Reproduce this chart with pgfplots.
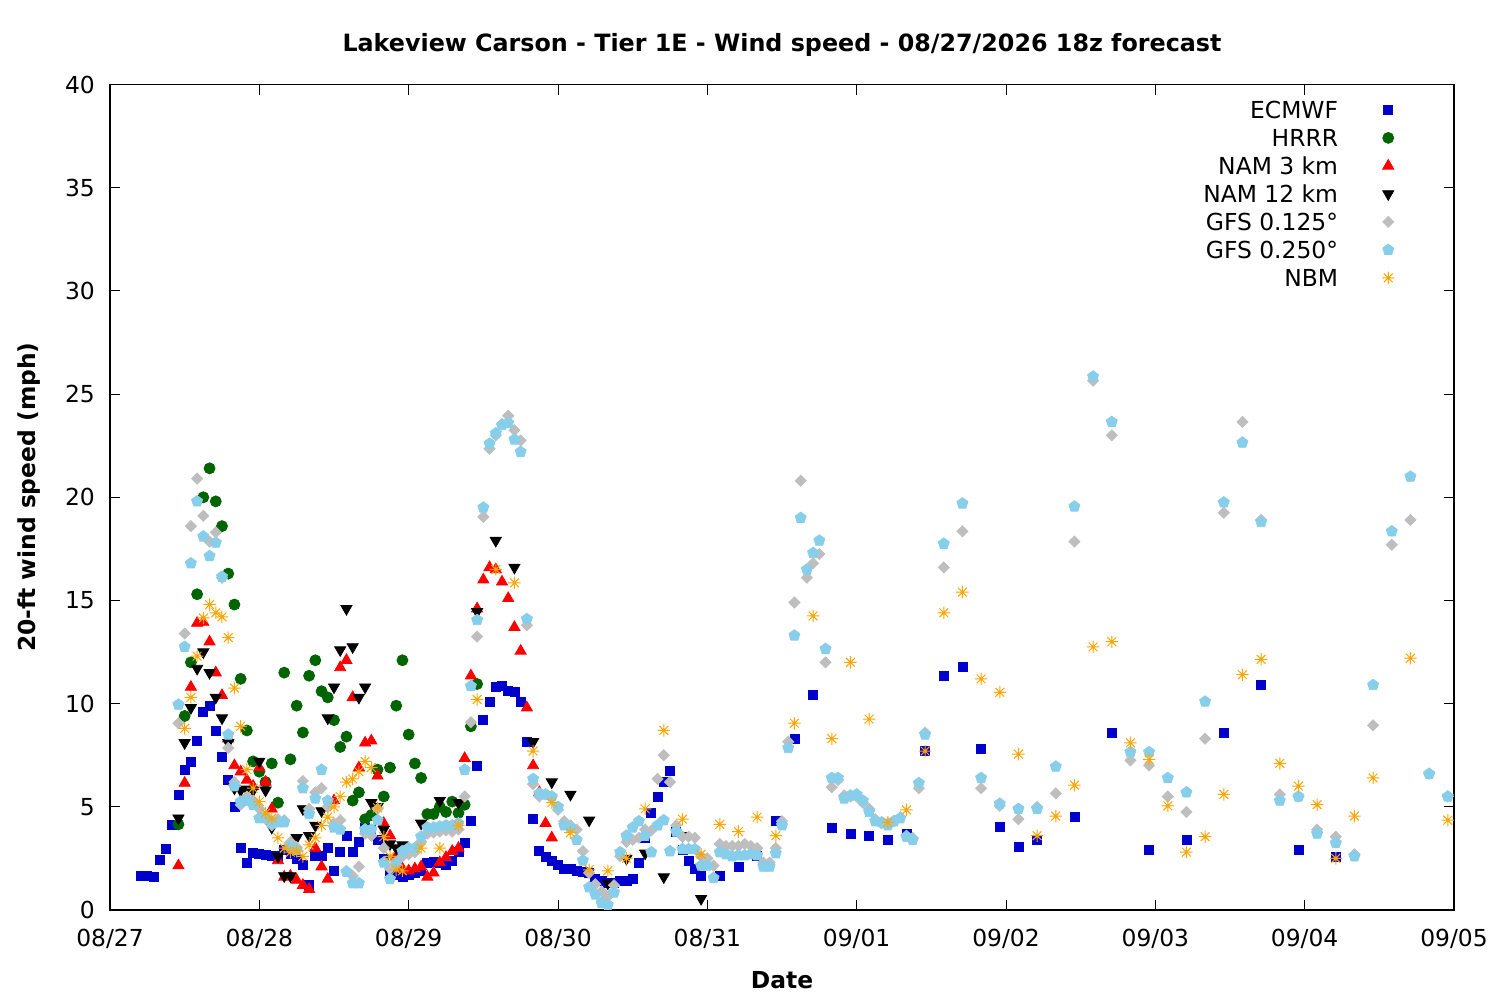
\documentclass[border=0pt]{standalone}
\usepackage{fontspec}
\setmainfont{DejaVu Sans}
\usepackage{pgfplots}
\pgfplotsset{compat=1.18}
\definecolor{ecblue}{HTML}{0000CD}
\definecolor{hrgreen}{HTML}{006400}
\definecolor{gfsgray}{HTML}{BEBEBE}
\definecolor{gfsblue}{HTML}{87CEEB}
\definecolor{nbmorange}{HTML}{FFA500}
\pgfdeclareplotmark{gpstar}{%
  \pgfpathmoveto{\pgfpoint{-\pgfplotmarksize}{0pt}}\pgfpathlineto{\pgfpoint{\pgfplotmarksize}{0pt}}%
  \pgfpathmoveto{\pgfpoint{0pt}{-\pgfplotmarksize}}\pgfpathlineto{\pgfpoint{0pt}{\pgfplotmarksize}}%
  \pgfpathmoveto{\pgfpoint{-0.707\pgfplotmarksize}{-0.707\pgfplotmarksize}}\pgfpathlineto{\pgfpoint{0.707\pgfplotmarksize}{0.707\pgfplotmarksize}}%
  \pgfpathmoveto{\pgfpoint{-0.707\pgfplotmarksize}{0.707\pgfplotmarksize}}\pgfpathlineto{\pgfpoint{0.707\pgfplotmarksize}{-0.707\pgfplotmarksize}}%
  \pgfusepathqstroke}
\begin{document}
\fontsize{11.7pt}{14pt}\selectfont
\begin{tikzpicture}
\useasboundingbox (-55pt,-45pt) rectangle (695pt,455pt);
\begin{axis}[
  at={(0,0)}, anchor=south west, scale only axis,
  width=672pt, height=412.75pt,
  xmin=0, xmax=216, ymin=0, ymax=40,
  xtick={0,24,...,216},
  xticklabels={08/27,08/28,08/29,08/30,08/31,09/01,09/02,09/03,09/04,09/05},
  ytick={0,5,...,40},
  tick pos=both, tick align=inside, major tick length=5pt,
  axis line style={line width=0.6pt}, every tick/.style={black, line width=0.5pt},
  /pgf/number format/assume math mode=true,
  tick label style={font=\fontsize{11.7pt}{14pt}\selectfont},
  xticklabel style={anchor=base, inner sep=0pt, yshift=-18.25pt},
  yticklabel style={anchor=east, inner sep=0pt, xshift=-7.4pt},
  title={\bfseries Lakeview Carson - Tier 1E - Wind speed - 08/27/2026 18z forecast},
  title style={at={(rel axis cs:0.5,1)}, anchor=base, yshift=10.45pt, inner sep=0pt, font=\fontsize{11.9pt}{14pt}\selectfont},
  xlabel={\bfseries Date},
  xlabel style={at={(axis description cs:0.5,-0.0951)}, anchor=base, inner sep=0pt, font=\fontsize{11.7pt}{14pt}\selectfont},
  ylabel={\bfseries 20-ft wind speed (mph)},
  ylabel style={at={(axis description cs:-0.0554,0.5)}, anchor=base, inner sep=0pt, font=\fontsize{11.7pt}{14pt}\selectfont},
  legend plot pos=right,
  legend cell align=right,
  legend image post style={yshift=2.5pt},
  legend style={at={(rel axis cs:0.956,1)}, anchor=north east, yshift=-8pt, draw=none, fill=none, inner sep=0pt, row sep=0pt, column sep=22pt,
    font=\fontsize{11.7pt}{14pt}\selectfont, nodes={inner sep=0pt, text height=9pt, text depth=5pt}},
  clip=false,
]
\addplot[only marks, mark=square*, mark size=2.25pt, color=ecblue] coordinates {
(5,1.65)(6,1.65)(7,1.6)(8,2.45)(9,2.95)(10,4.1)(11,5.6)(12,6.8)(13,7.2)(14,8.2)(15,9.6)(16,9.9)(17,8.7)(18,7.4)(19,6.3)(20,5.0)(21,3.0)(22,2.3)(23,2.75)(24,2.7)(25,2.65)(26,2.6)(27,2.6)(28,2.9)(29,2.7)(30,2.5)(31,2.2)(32,1.2)(33,2.6)(34,2.6)(35,3.0)(36,1.9)(37,2.8)(38,3.6)(39,2.8)(40,3.3)(41,4.0)(42,3.9)(43,3.4)(44,2.5)(45,1.8)(46,1.7)(47,1.6)(48,1.7)(49,1.8)(50,1.9)(51,2.3)(52,2.35)(53,2.3)(54,2.2)(55,2.4)(56,2.8)(57,3.25)(58,4.3)(59,7.0)(60,9.2)(61,10.1)(62,10.8)(63,10.85)(64,10.6)(65,10.55)(66,10.1)(67,8.15)(68,4.4)(69,2.85)(70,2.55)(71,2.4)(72,2.2)(73,2.0)(74,2.0)(75,1.9)(76,1.85)(77,1.8)(78,1.5)(79,1.4)(80,1.3)(81,1.3)(82,1.4)(83,1.4)(84,1.5)(85,2.3)(86,3.5)(87,4.7)(88,5.5)(89,6.2)(90,6.75)(91,3.8)(92,2.9)(93,2.4)(94,2.0)(95,1.65)(98,1.65)(101,2.1)(104,2.6)(107,4.3)(110,8.3)(113,10.4)(116,4.0)(119,3.7)(122,3.6)(125,3.4)(128,3.7)(131,7.7)(134,11.35)(137,11.8)(140,7.8)(143,4.05)(146,3.05)(149,3.4)(155,4.5)(161,8.6)(167,2.9)(173,3.4)(179,8.6)(185,10.9)(191,2.9)(197,2.55)
};
\addlegendentry{ECMWF}
\addplot[only marks, mark=*, mark size=2.75pt, color=hrgreen] coordinates {
(11,4.15)(12,9.4)(13,12.0)(14,15.3)(15,20.0)(16,21.4)(17,19.8)(18,18.6)(19,16.3)(20,14.8)(21,11.2)(22,8.7)(23,7.2)(24,6.7)(25,6.2)(26,7.1)(27,5.2)(28,11.5)(29,7.3)(30,9.9)(31,8.6)(32,11.35)(33,12.1)(34,10.6)(35,10.3)(36,9.2)(37,7.9)(38,8.4)(39,5.3)(40,5.7)(41,4.4)(42,4.6)(43,6.8)(44,5.5)(45,6.9)(46,9.9)(47,12.1)(48,8.5)(49,7.1)(50,6.4)(51,4.65)(52,4.65)(53,5.0)(54,4.75)(55,5.25)(56,4.7)(57,5.1)(58,8.9)(59,10.95)
};
\addlegendentry{HRRR}
\addplot[only marks, mark=triangle*, mark size=3.2pt, color=red] coordinates {
(11,2.15)(12,6.15)(13,10.8)(14,13.9)(15,13.95)(16,13.0)(17,11.5)(18,10.4)(19,8.3)(20,7.0)(21,6.7)(22,6.3)(23,6.0)(24,6.9)(25,6.2)(26,4.9)(27,2.4)(28,1.6)(29,1.65)(30,1.45)(31,1.2)(32,1.0)(33,3.0)(34,2.1)(35,1.5)(36,5.3)(37,11.75)(38,12.1)(39,10.3)(40,6.9)(41,8.1)(42,8.2)(43,6.5)(44,4.2)(45,3.6)(46,2.6)(47,2.0)(48,1.9)(49,2.0)(50,2.1)(51,1.6)(52,1.8)(53,2.3)(54,2.55)(55,2.85)(56,3.0)(57,7.35)(58,11.35)(59,14.6)(60,16.0)(61,16.6)(62,16.5)(63,15.9)(64,15.1)(65,13.7)(66,12.55)(67,9.8)(68,7.0)(69,5.7)(70,4.2)(71,3.5)
};
\addlegendentry{NAM 3 km}
\addplot[only marks, mark=triangle*, mark size=3.2pt, mark options={rotate=180}, color=black] coordinates {
(11,4.45)(12,8.1)(13,9.8)(14,11.7)(15,12.5)(16,11.5)(17,10.3)(18,9.3)(19,8.1)(20,5.9)(21,5.8)(22,5.85)(23,5.8)(24,7.2)(25,5.8)(26,4.0)(27,2.6)(28,1.65)(29,1.65)(30,3.5)(31,4.9)(32,3.6)(33,4.1)(34,4.8)(35,9.3)(36,10.8)(37,12.6)(38,14.6)(39,12.75)(40,10.3)(41,10.8)(42,5.2)(43,5.0)(44,3.9)(45,3.2)(46,3.0)(47,3.15)(50,4.2)(53,5.3)(56,5.2)(59,14.45)(62,17.9)(65,16.6)(68,8.15)(71,6.2)(74,5.6)(77,4.35)(80,1.3)(83,2.5)(86,2.75)(89,1.6)(92,3.6)(95,0.55)
};
\addlegendentry{NAM 12 km}
\addplot[only marks, mark=square*, mark size=1.95pt, mark options={rotate=45}, color=gfsgray] coordinates {
(11,9.05)(12,13.4)(13,18.6)(14,20.9)(15,19.1)(16,17.85)(17,18.3)(18,16.1)(19,7.85)(20,6.2)(21,5.1)(22,5.5)(23,5.3)(24,4.9)(25,4.4)(26,4.1)(27,4.4)(28,4.35)(29,3.3)(30,3.05)(31,6.25)(32,4.9)(33,5.7)(34,5.9)(35,5.0)(36,4.2)(37,4.35)(38,1.9)(39,1.65)(40,2.1)(41,3.7)(42,3.6)(43,4.9)(44,3.0)(45,2.0)(46,2.2)(47,2.6)(48,2.7)(49,2.8)(50,3.3)(51,3.7)(52,3.75)(53,3.8)(54,3.85)(55,3.8)(56,3.9)(57,5.5)(58,9.1)(59,13.25)(60,19.05)(61,22.35)(62,23.0)(63,23.55)(64,23.95)(65,23.25)(66,22.75)(67,13.8)(68,6.1)(69,5.5)(70,5.6)(71,5.5)(72,4.85)(73,4.3)(74,4.1)(75,3.9)(76,2.85)(77,1.8)(78,1.25)(79,0.9)(80,0.65)(81,1.2)(82,2.6)(83,3.3)(84,3.4)(85,3.5)(86,3.9)(87,3.85)(88,6.35)(89,7.5)(90,6.2)(91,4.1)(92,3.55)(93,3.55)(94,3.5)(95,2.6)(96,2.5)(97,2.15)(98,3.2)(99,3.1)(100,3.1)(101,3.1)(102,3.2)(103,3.1)(104,3.0)(105,2.3)(106,2.3)(107,3.0)(108,4.3)(109,8.15)(110,14.9)(111,20.8)(112,16.1)(113,16.8)(114,17.25)(115,12.0)(116,5.95)(117,6.3)(118,5.55)(119,5.5)(120,5.5)(121,5.2)(122,4.9)(123,4.4)(124,4.2)(125,4.2)(126,4.3)(127,4.5)(128,3.6)(129,3.5)(130,5.9)(131,8.6)(134,16.6)(137,18.35)(140,5.9)(143,5.05)(146,4.4)(149,5.0)(152,5.65)(155,17.85)(158,25.65)(161,23.0)(164,7.25)(167,7.0)(170,5.5)(173,4.75)(176,8.3)(179,19.25)(182,23.65)(185,18.9)(188,5.6)(191,5.5)(194,3.9)(197,3.55)(200,2.7)(203,8.95)(206,17.7)(209,18.9)(212,6.6)(215,5.5)
};
\addlegendentry{GFS 0.125°}
\addplot[only marks, mark=pentagon*, mark size=2.9pt, color=gfsblue] coordinates {
(11,9.95)(12,12.75)(13,16.8)(14,19.8)(15,18.1)(16,17.15)(17,17.8)(18,16.15)(19,8.5)(20,6.0)(21,5.25)(22,5.3)(23,5.1)(24,4.45)(25,4.5)(26,4.2)(27,4.25)(28,4.25)(29,3.1)(30,2.9)(31,5.9)(32,4.65)(33,5.4)(34,6.8)(35,5.3)(36,4.0)(37,3.9)(38,1.85)(39,1.3)(40,1.3)(41,3.9)(42,3.9)(43,4.35)(44,2.3)(45,1.5)(46,2.3)(47,2.85)(48,3.0)(49,3.0)(50,3.55)(51,4.0)(52,4.0)(53,4.05)(54,4.1)(55,4.1)(56,4.2)(57,6.8)(58,10.85)(59,14.05)(60,19.5)(61,22.6)(62,23.1)(63,23.5)(64,23.6)(65,22.8)(66,22.2)(67,14.1)(68,6.35)(69,5.65)(70,5.6)(71,5.5)(72,5.0)(73,4.1)(74,4.0)(75,3.4)(76,2.4)(77,1.1)(78,0.75)(79,0.35)(80,0.25)(81,0.85)(82,2.8)(83,3.6)(84,4.0)(85,4.3)(86,3.6)(87,2.8)(88,4.1)(89,4.35)(90,2.85)(91,3.8)(92,2.95)(93,2.95)(94,2.95)(95,2.15)(96,2.15)(97,1.55)(98,2.8)(99,2.7)(100,2.6)(101,2.65)(102,2.65)(103,2.7)(104,2.65)(105,2.1)(106,2.1)(107,2.75)(108,4.1)(109,7.85)(110,13.3)(111,19.0)(112,16.5)(113,17.3)(114,17.9)(115,12.65)(116,6.4)(117,6.4)(118,5.4)(119,5.55)(120,5.6)(121,5.3)(122,4.75)(123,4.3)(124,4.25)(125,4.1)(126,4.3)(127,4.45)(128,3.55)(129,3.4)(130,6.15)(131,8.5)(134,17.75)(137,19.7)(140,6.4)(143,5.15)(146,4.9)(149,4.9)(152,6.95)(155,19.55)(158,25.85)(161,23.65)(164,7.65)(167,7.65)(170,6.4)(173,5.7)(176,10.1)(179,19.75)(182,22.65)(185,18.8)(188,5.3)(191,5.5)(194,3.7)(197,3.25)(200,2.6)(203,10.9)(206,18.35)(209,21.0)(212,6.6)(215,5.5)
};
\addlegendentry{GFS 0.250°}
\addplot[only marks, mark=gpstar, mark size=3.1pt, mark options={line width=0.5pt}, color=nbmorange] coordinates {
(12,8.8)(13,10.3)(14,12.3)(15,14.15)(16,14.8)(17,14.4)(18,14.2)(19,13.2)(20,10.75)(21,8.9)(22,6.8)(23,5.9)(24,5.25)(25,4.7)(26,4.45)(27,3.5)(28,3.0)(29,2.8)(30,2.85)(31,2.6)(32,3.15)(33,3.5)(34,4.1)(35,4.5)(36,5.0)(37,5.5)(38,6.2)(39,6.35)(40,6.7)(41,7.2)(42,6.9)(43,4.95)(44,3.55)(45,2.6)(46,1.95)(47,1.9)(50,3.0)(53,3.0)(56,4.1)(59,10.2)(62,16.5)(65,15.85)(68,7.7)(71,5.2)(74,3.75)(77,1.95)(80,1.9)(83,2.5)(86,4.9)(89,8.7)(92,4.4)(95,2.7)(98,4.15)(101,3.8)(104,4.5)(107,3.6)(110,9.05)(113,14.25)(116,8.3)(119,12.0)(122,9.25)(125,4.25)(128,4.85)(131,7.7)(134,14.4)(137,15.4)(140,11.2)(143,10.55)(146,7.55)(149,3.6)(152,4.55)(155,6.05)(158,12.75)(161,13.0)(164,8.1)(167,7.3)(170,5.05)(173,2.8)(176,3.55)(179,5.6)(182,11.4)(185,12.15)(188,7.1)(191,6.0)(194,5.1)(197,2.5)(200,4.55)(203,6.4)(209,12.2)(215,4.35)
};
\addlegendentry{NBM}
\end{axis}
\end{tikzpicture}
\end{document}
